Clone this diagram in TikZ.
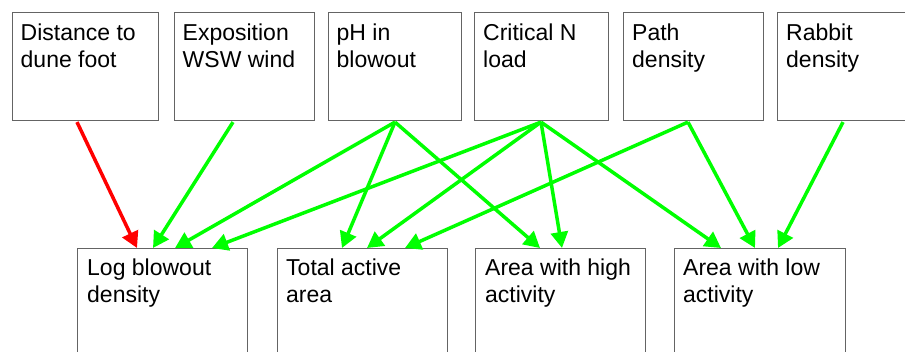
\documentclass[tikz,border=0pt]{standalone}
\usepackage{fontspec}
\setmainfont{Liberation Sans}
\usetikzlibrary{arrows.meta,calc}
\definecolor{posgreen}{RGB}{0,255,0}
\definecolor{negred}{RGB}{255,0,0}
\definecolor{boxgray}{RGB}{100,100,100}
\begin{document}
\begin{tikzpicture}[x=1pt,y=-1pt,
  box/.style={draw=boxgray, line width=1.1pt, anchor=north west, inner sep=0pt, minimum height=108pt},
  lbl/.style={anchor=north west, inner sep=0pt, align=left, font=\fontsize{23}{27}\selectfont},
  posarrow/.style={line width=3.5pt, draw=posgreen, -{Triangle[length=16pt,width=17pt]}},
  negarrow/.style={line width=3.5pt, draw=negred, -{Triangle[length=16pt,width=17pt]}}]
\useasboundingbox (0,0) rectangle (905,351);
\clip (0,0) rectangle (905,351);
\fill[white] (0,0) rectangle (905,351);
% top row
\node[box, minimum width=146pt] (d) at (12,12) {};
\node[box, minimum width=140pt] (e) at (174,12) {};
\node[box, minimum width=133pt] (p) at (328,12) {};
\node[box, minimum width=134pt] (c) at (474,12) {};
\node[box, minimum width=140pt] (a) at (623,12) {};
\node[box, minimum width=140pt] (r) at (777,12) {};
\node[lbl] (dl) at ($(d.north west)+(8.5,12)$) {Distance to\\dune foot};
\node[lbl] (el) at ($(e.north west)+(8.5,12)$) {Exposition\\WSW wind};
\node[lbl] (pl) at ($(p.north west)+(8.5,12)$) {pH in\\blowout};
\node[lbl] (cl) at ($(c.north west)+(9,12)$) {Critical N\\load};
\node[lbl] (al) at ($(a.north west)+(9,12)$) {Path\\density};
\node[lbl] (rl) at ($(r.north west)+(9,12)$) {Rabbit\\density};
% bottom row
\node[box, minimum width=170pt] (lb) at (77,248) {};
\node[box, minimum width=170pt] (ta) at (277,248) {};
\node[box, minimum width=170pt] (hi) at (475,248) {};
\node[box, minimum width=171pt] (lo) at (674,248) {};
\node[lbl] (lbl1) at ($(lb.north west)+(10,10.5)$) {Log blowout\\density};
\node[lbl] (tal) at ($(ta.north west)+(9,10.5)$) {Total active\\area};
\node[lbl] (hil) at ($(hi.north west)+(10,10.5)$) {Area with high\\activity};
\node[lbl] (lol) at ($(lo.north west)+(9,10.5)$) {Area with low\\activity};
% connectors
\draw[negarrow] ($(d.south west)+(65,1)$) -- ($(lb.north west)+(60,0)$);
\draw[posarrow] ($(e.south west)+(59,1)$) -- ($(lb.north west)+(76,0)$);
\draw[posarrow] ($(p.south west)+(67,1)$) -- ($(lb.north west)+(98,0)$);
\draw[posarrow] ($(p.south west)+(67,1)$) -- ($(ta.north west)+(65,0)$);
\draw[posarrow] ($(p.south west)+(67,1)$) -- ($(hi.north west)+(65,0)$);
\draw[posarrow] ($(c.south west)+(67,1)$) -- ($(lb.north west)+(135,0)$);
\draw[posarrow] ($(c.south west)+(67,1)$) -- ($(ta.north west)+(90,0)$);
\draw[posarrow] ($(c.south west)+(67,1)$) -- ($(hi.north west)+(87,0)$);
\draw[posarrow] ($(c.south west)+(67,1)$) -- ($(lo.north west)+(47,0)$);
\draw[posarrow] ($(a.south west)+(65,1)$) -- ($(ta.north west)+(128,0)$);
\draw[posarrow] ($(a.south west)+(65,1)$) -- ($(lo.north west)+(81,0)$);
\draw[posarrow] ($(r.south west)+(66,1)$) -- ($(lo.north west)+(104,0)$);
\end{tikzpicture}
\end{document}
